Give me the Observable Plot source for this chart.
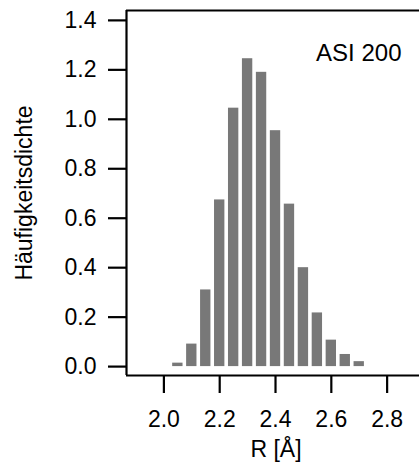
<!DOCTYPE html>
<html><head><meta charset="utf-8">
<script src="https://cdn.jsdelivr.net/npm/d3@7"></script>
<script src="https://cdn.jsdelivr.net/npm/@observablehq/plot@0.6"></script>
<style>
html,body{margin:0;padding:0;background:#fff;}
#chart svg{display:block;}
</style>
</head><body><div id="chart"></div>
<script>
const binCenters = [2.05, 2.10, 2.15, 2.20, 2.25, 2.30, 2.35, 2.40, 2.45, 2.50, 2.55, 2.60, 2.65, 2.70];
const density    = [0.014, 0.091, 0.31, 0.674, 1.045, 1.245, 1.19, 0.954, 0.657, 0.40, 0.217, 0.107, 0.049, 0.02];
const binWidth = 0.05;
const xTicks = [2.0, 2.2, 2.4, 2.6, 2.8];
const yTicks = [0.0, 0.2, 0.4, 0.6, 0.8, 1.0, 1.2, 1.4];
const annotation = "ASI 200";
const xLabel = "R [Å]";
const yLabel = "Häufigkeitsdichte";

const bins = binCenters.map((c, i) => ({x1: c - binWidth / 2, x2: c + binWidth / 2, y: density[i]}));
const FS = 23;

const chart = Plot.plot({
  width: 419,
  height: 462,
  marginLeft: 126,
  marginRight: 0,
  marginTop: 10,
  marginBottom: 87,
  style: {fontFamily: "'Liberation Sans', Arial, sans-serif", fontSize: FS + "px", color: "#000", background: "#fff"},
  x: {domain: [1.866, 2.916]},
  y: {domain: [-0.036, 1.44]},
  marks: [
    Plot.rectY(bins, {x1: "x1", x2: "x2", y1: 0, y2: "y", fill: "#787878", insetLeft: 1.8, insetRight: 1.8}),
    Plot.ruleY([1.44], {stroke: "#000", strokeWidth: 2.2}),
    Plot.ruleY([-0.036], {stroke: "#000", strokeWidth: 2.2}),
    Plot.ruleX([1.866], {stroke: "#000", strokeWidth: 2.2}),
    Plot.axisY({ticks: yTicks, tickSize: 18, tickPadding: 12, strokeWidth: 2.2, fontSize: FS, tickFormat: d3.format(".1f"),
      label: null}),
    Plot.axisX({ticks: xTicks, tickSize: 18, tickPadding: 17, strokeWidth: 2.2, fontSize: FS, tickFormat: d3.format(".1f"),
      label: null}),
    Plot.text([yLabel], {text: d => d, frameAnchor: "left", textAnchor: "middle", lineAnchor: "middle", rotate: -90, dx: -102, fontSize: FS, fill: "#000"}),
    Plot.text([xLabel], {text: d => d, frameAnchor: "bottom", textAnchor: "middle", lineAnchor: "top", dx: 3, dy: 65, fontSize: FS, fill: "#000"}),
    Plot.text([annotation], {text: d => d, frameAnchor: "top-right", textAnchor: "end", lineAnchor: "top", dx: -18, dy: 33, fontSize: 24, fill: "#000"})
  ]
});
document.getElementById("chart").appendChild(chart);
</script>
</body></html>
